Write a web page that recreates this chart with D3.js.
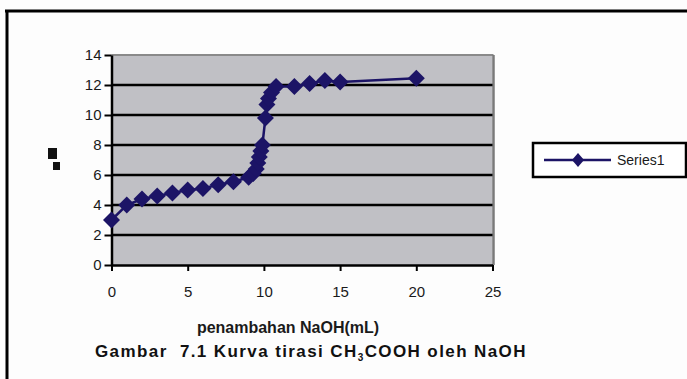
<!DOCTYPE html>
<html>
<head>
<meta charset="utf-8">
<script src="https://cdn.jsdelivr.net/npm/d3@7/dist/d3.min.js"></script>
<style>
  html, body { margin: 0; padding: 0; background: #fdfdfd; }
  svg { display: block; }
</style>
</head>
<body>
<svg id="chart" width="687" height="379"></svg>
<script>
// Titration of CH3COOH with NaOH: volume added (mL) against pH
const volumeNaOH = [0, 1, 2, 3, 4, 5, 6, 7, 8, 9, 9.3, 9.5, 9.6, 9.7, 9.8, 9.9, 10.1, 10.2, 10.3, 10.5, 10.8, 12, 13, 14, 15, 20];
const pHValues   = [3.0, 4.0, 4.4, 4.6, 4.8, 5.0, 5.1, 5.35, 5.55, 5.85, 6.1, 6.4, 6.8, 7.2, 7.6, 8.0, 9.8, 10.7, 11.1, 11.5, 11.9, 11.9, 12.1, 12.3, 12.2, 12.45];
const xTicks = [0, 5, 10, 15, 20, 25];
const yTicks = [0, 2, 4, 6, 8, 10, 12, 14];
const seriesName = "Series1";
const xTitle = "penambahan NaOH(mL)";

const navy = "#1c1466";
const svg = d3.select("#chart");

// outer frame (top and left edges)
svg.append("line").attr("x1", 5).attr("x2", 687).attr("y1", 11).attr("y2", 11)
  .attr("stroke", "#000").attr("stroke-width", 3);
svg.append("line").attr("x1", 7).attr("x2", 7).attr("y1", 10).attr("y2", 379)
  .attr("stroke", "#000").attr("stroke-width", 3);

const x = d3.scaleLinear().domain([0, 25]).range([111.5, 492.5]);
const y = d3.scaleLinear().domain([0, 14]).range([265, 55]);

// plot area
svg.append("rect")
  .attr("x", x(0)).attr("y", y(14))
  .attr("width", x(25) - x(0)).attr("height", y(0) - y(14))
  .attr("fill", "#c0c0c5");
svg.append("line").attr("x1", x(0)).attr("x2", x(25) + 1).attr("y1", y(14)).attr("y2", y(14))
  .attr("stroke", "#8a8a8a").attr("stroke-width", 2);
svg.append("line").attr("x1", x(25) + 1).attr("x2", x(25) + 1).attr("y1", y(14)).attr("y2", y(0))
  .attr("stroke", "#7a7a7a").attr("stroke-width", 2.5);

// horizontal gridlines
svg.append("g").selectAll("line")
  .data(yTicks.filter(v => v > 0 && v < 14))
  .join("line")
  .attr("x1", x(0)).attr("x2", x(25))
  .attr("y1", d => y(d)).attr("y2", d => y(d))
  .attr("stroke", "#000").attr("stroke-width", 2.5);

// axes
const yAxis = svg.append("g")
  .attr("transform", `translate(${x(0)},0)`)
  .call(d3.axisLeft(y).tickValues(yTicks).tickSize(7).tickPadding(3).tickSizeOuter(0));
const xAxis = svg.append("g")
  .attr("transform", `translate(0,${y(0)})`)
  .call(d3.axisBottom(x).tickValues(xTicks).tickSize(6).tickPadding(15).tickSizeOuter(0));
[yAxis, xAxis].forEach(g => {
  g.select(".domain").attr("stroke", "#000").attr("stroke-width", 2.5);
  g.selectAll(".tick line").attr("stroke", "#000").attr("stroke-width", 2);
  g.selectAll(".tick text")
    .attr("font-family", "'Liberation Sans', Arial, sans-serif")
    .attr("font-size", 15).attr("fill", "#1a1a1a");
});

// series line and diamond markers
const pts = volumeNaOH.map((v, i) => [v, pHValues[i]]);
svg.append("path")
  .datum(pts)
  .attr("fill", "none").attr("stroke", navy).attr("stroke-width", 2.5)
  .attr("d", d3.line().x(d => x(d[0])).y(d => y(d[1])));
const diamond = "M0,-8.5L8.5,0L0,8.5L-8.5,0Z";
svg.append("g").selectAll("path")
  .data(pts)
  .join("path")
  .attr("d", diamond)
  .attr("transform", d => `translate(${x(d[0])},${y(d[1])})`)
  .attr("fill", navy);

// y-axis title mark
svg.append("rect").attr("x", 48).attr("y", 148).attr("width", 9).attr("height", 11).attr("fill", "#111");
svg.append("rect").attr("x", 53).attr("y", 162).attr("width", 7).attr("height", 8).attr("fill", "#111");

// legend
const lg = svg.append("g");
lg.append("rect").attr("x", 533).attr("y", 143).attr("width", 153).attr("height", 34)
  .attr("fill", "#fff").attr("stroke", "#000").attr("stroke-width", 2.5);
lg.append("line").attr("x1", 544).attr("x2", 611).attr("y1", 160).attr("y2", 160)
  .attr("stroke", navy).attr("stroke-width", 2.5);
lg.append("path").attr("d", "M0,-7L6,0L0,7L-6,0Z").attr("transform", "translate(578,160)").attr("fill", navy);
lg.append("text").attr("x", 617).attr("y", 165)
  .attr("font-family", "'Liberation Sans', Arial, sans-serif").attr("font-size", 14)
  .attr("fill", "#1a1a1a").text(seriesName);

// x-axis title
svg.append("text")
  .attr("x", 288).attr("y", 333).attr("text-anchor", "middle")
  .attr("font-family", "'Liberation Sans', Arial, sans-serif")
  .attr("font-size", 16).attr("font-weight", "bold").attr("fill", "#1a1a1a")
  .text(xTitle);

// figure caption
const cap = svg.append("text")
  .attr("x", 95).attr("y", 357)
  .attr("font-family", "'Liberation Sans', Arial, sans-serif")
  .attr("font-size", 17).attr("font-weight", "bold").attr("fill", "#111")
  .attr("letter-spacing", 1.4)
  .attr("xml:space", "preserve");
cap.append("tspan").text("Gambar  7.1 Kurva tirasi CH");
cap.append("tspan").attr("font-size", 10).attr("dy", 4).text("3");
cap.append("tspan").attr("dy", -4).text("COOH oleh NaOH");
</script>
</body>
</html>
